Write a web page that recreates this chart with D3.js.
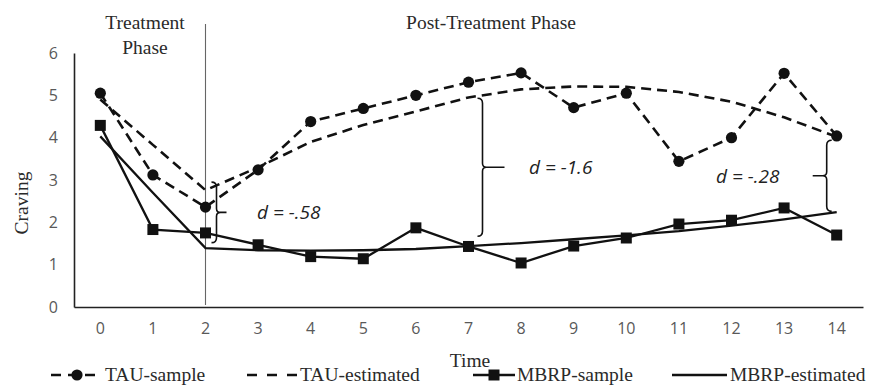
<!DOCTYPE html>
<html>
<head>
<meta charset="utf-8">
<script src="https://cdn.jsdelivr.net/npm/d3@7"></script>
<style>
  html, body { margin: 0; padding: 0; background: #fff; }
  svg { display: block; }
</style>
</head>
<body>
<svg id="chart" width="870" height="390"></svg>
<script>
// ---- data ----
const timePoints = [0,1,2,3,4,5,6,7,8,9,10,11,12,13,14];
const yTicks = [0,1,2,3,4,5,6];
const tauSample    = [5.05,3.12,2.36,3.24,4.38,4.69,5.00,5.31,5.53,4.71,5.05,3.44,4.00,5.52,4.04];
const tauEstimated = [4.90,3.83,2.76,3.30,3.90,4.30,4.62,4.95,5.14,5.21,5.20,5.08,4.85,4.48,4.02];
const mbrpSample    = [4.29,1.83,1.75,1.47,1.19,1.14,1.87,1.43,1.04,1.44,1.63,1.96,2.05,2.34,1.70];
const mbrpEstimated = [4.03,2.70,1.39,1.34,1.33,1.34,1.37,1.44,1.51,1.60,1.69,1.79,1.92,2.07,2.24];
const seriesNames = ["TAU-sample","TAU-estimated","MBRP-sample","MBRP-estimated"];
const effectLabels = ["d = -.58","d = -1.6","d = -.28"];
const effectTimes  = [2,7,14];
const effectTop    = [2.95,4.93,3.94];
const effectBottom = [1.52,1.67,2.26];

// ---- layout ----
const svg = d3.select("#chart");
const x = d3.scaleBand().domain(timePoints).range([74, 863]);
const xc = t => x(t) + x.bandwidth()/2;
const y = d3.scaleLinear().domain([0,6]).range([307, 53]);

const serif = "'Liberation Serif','Times New Roman',serif";
const sans = "'Open Sans','Liberation Sans',sans-serif";
const ink = "#111";
const textInk = "#2a2a2a";

// axes
const xAxis = svg.append("g").attr("transform", "translate(0,307)")
  .call(d3.axisBottom(x).tickSize(0).tickPadding(16));
xAxis.select(".domain").attr("stroke", "#222").attr("stroke-width", 1.6);
xAxis.selectAll("text").attr("font-family", sans).attr("font-size", 16).attr("fill", "#595959");

const yAxis = svg.append("g").attr("transform", "translate(74,0)")
  .call(d3.axisLeft(y).tickValues(yTicks).tickSize(0).tickPadding(16).tickFormat(d3.format("d")));
yAxis.select(".domain").attr("stroke", "#222").attr("stroke-width", 1.6);
yAxis.selectAll("text").attr("font-family", sans).attr("font-size", 16).attr("fill", "#595959");

// phase separator
svg.append("line")
  .attr("x1", xc(2)).attr("x2", xc(2)).attr("y1", 24).attr("y2", 305)
  .attr("stroke", "#666").attr("stroke-width", 1.1);

// phase titles
svg.append("text").attr("x", 145).attr("y", 29).attr("text-anchor", "middle")
  .attr("font-family", serif).attr("font-size", 19.5).attr("fill", textInk).text("Treatment");
svg.append("text").attr("x", 145).attr("y", 54).attr("text-anchor", "middle")
  .attr("font-family", serif).attr("font-size", 19.5).attr("fill", textInk).text("Phase");
svg.append("text").attr("x", 491).attr("y", 29).attr("text-anchor", "middle")
  .attr("font-family", serif).attr("font-size", 19.5).attr("fill", textInk).text("Post-Treatment Phase");

// axis titles
svg.append("text").attr("transform", "translate(28,203) rotate(-90)").attr("text-anchor", "middle")
  .attr("font-family", serif).attr("font-size", 19.5).attr("fill", textInk).text("Craving");
svg.append("text").attr("x", 470).attr("y", 367).attr("text-anchor", "middle")
  .attr("font-family", serif).attr("font-size", 19.5).attr("fill", textInk).text("Time");

// lines
const line = d3.line().x((d,i) => xc(timePoints[i])).y(d => y(d));
const dash = "10,6";
svg.append("path").datum(tauEstimated).attr("d", line).attr("fill", "none")
  .attr("stroke", ink).attr("stroke-width", 2.6).attr("stroke-dasharray", dash);
svg.append("path").datum(mbrpEstimated).attr("d", line).attr("fill", "none")
  .attr("stroke", ink).attr("stroke-width", 2.3);
svg.append("path").datum(tauSample).attr("d", line).attr("fill", "none")
  .attr("stroke", ink).attr("stroke-width", 2.6).attr("stroke-dasharray", dash);
svg.append("path").datum(mbrpSample).attr("d", line).attr("fill", "none")
  .attr("stroke", ink).attr("stroke-width", 2.3);

svg.append("g").selectAll("circle").data(tauSample).join("circle")
  .attr("cx", (d,i) => xc(timePoints[i])).attr("cy", d => y(d)).attr("r", 5.6).attr("fill", ink);
const sq = 11;
svg.append("g").selectAll("rect").data(mbrpSample).join("rect")
  .attr("x", (d,i) => xc(timePoints[i]) - sq/2).attr("y", d => y(d) - sq/2)
  .attr("width", sq).attr("height", sq).attr("fill", ink);

// braces
function brace(x0, y0, y1, tip) {
  // tip > 0 : "}" shape, tip < 0 : "{" shape
  const s = Math.sign(tip), ym = (y0 + y1) / 2, r = 5;
  return `M${x0 - s*r},${y0} Q${x0},${y0} ${x0},${y0 + r} L${x0},${ym - 4} ` +
         `Q${x0},${ym} ${x0 + s*4},${ym} L${x0 + tip},${ym} M${x0 + s*4},${ym} ` +
         `Q${x0},${ym} ${x0},${ym + 4} L${x0},${y1 - r} Q${x0},${y1} ${x0 - s*r},${y1}`;
}
const braceX   = [xc(2) + 11, xc(7) + 14, xc(14) - 10];
const braceTip = [10, 22, -14];
const labelX   = [257, 529, 716];
effectLabels.forEach((lab, i) => {
  const y0 = y(effectTop[i]), y1 = y(effectBottom[i]);
  svg.append("path").attr("d", brace(braceX[i], y0, y1, braceTip[i]))
    .attr("fill", "none").attr("stroke", ink).attr("stroke-width", 1.6);
  svg.append("text").attr("x", labelX[i]).attr("y", (y0 + y1)/2 + 7)
    .attr("font-family", sans).attr("font-style", "italic").attr("font-size", 19)
    .attr("fill", "#222").text(lab);
});

// legend
const ly = 375;
const leg = svg.append("g");
// TAU-sample
leg.append("line").attr("x1", 51).attr("x2", 100).attr("y1", ly).attr("y2", ly)
  .attr("stroke", ink).attr("stroke-width", 2.6).attr("stroke-dasharray", "10,7");
leg.append("circle").attr("cx", 77).attr("cy", ly).attr("r", 5.6).attr("fill", ink);
leg.append("text").attr("x", 105).attr("y", ly + 6).attr("font-family", serif)
  .attr("font-size", 19.5).attr("fill", textInk).text(seriesNames[0]);
// TAU-estimated
leg.append("line").attr("x1", 247).attr("x2", 297).attr("y1", ly).attr("y2", ly)
  .attr("stroke", ink).attr("stroke-width", 2.6).attr("stroke-dasharray", "10,10");
leg.append("text").attr("x", 300).attr("y", ly + 6).attr("font-family", serif)
  .attr("font-size", 19.5).attr("fill", textInk).text(seriesNames[1]);
// MBRP-sample
leg.append("line").attr("x1", 473).attr("x2", 515).attr("y1", ly).attr("y2", ly)
  .attr("stroke", ink).attr("stroke-width", 2.3);
leg.append("rect").attr("x", 494 - sq/2).attr("y", ly - sq/2).attr("width", sq).attr("height", sq).attr("fill", ink);
leg.append("text").attr("x", 517).attr("y", ly + 6).attr("font-family", serif)
  .attr("font-size", 19.5).attr("fill", textInk).text(seriesNames[2]);
// MBRP-estimated
leg.append("line").attr("x1", 672).attr("x2", 727).attr("y1", ly).attr("y2", ly)
  .attr("stroke", ink).attr("stroke-width", 2.3);
leg.append("text").attr("x", 730).attr("y", ly + 6).attr("font-family", serif)
  .attr("font-size", 19.5).attr("fill", textInk).text(seriesNames[3]);
</script>
</body>
</html>
